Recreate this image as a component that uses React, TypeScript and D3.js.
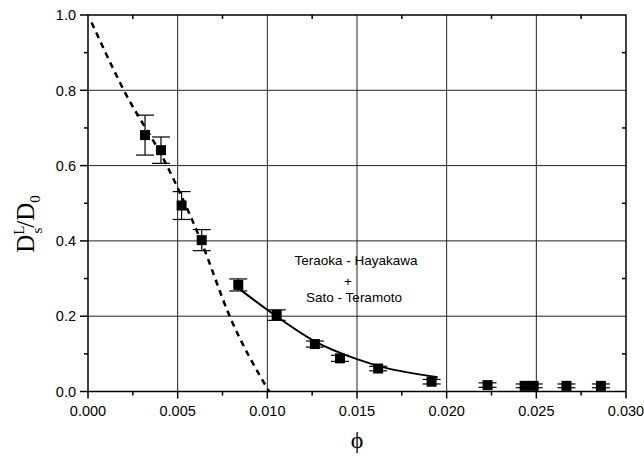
import React from 'react'
import * as d3 from 'd3'

// measured points (phi, Ds/D0, error)
const phiValues = [0.00318, 0.00407, 0.00522, 0.00634, 0.00838, 0.01052, 0.01265, 0.01405, 0.01618, 0.01916, 0.02228, 0.02435, 0.02485, 0.02668, 0.0286]
const dsValues = [0.681, 0.641, 0.494, 0.402, 0.283, 0.203, 0.126, 0.088, 0.061, 0.026, 0.017, 0.015, 0.015, 0.015, 0.015]
const errValues = [0.053, 0.035, 0.037, 0.028, 0.016, 0.014, 0.008, 0.008, 0.006, 0.006, 0.006, 0.005, 0.005, 0.005, 0.005]

// dashed curve
const dashPhi = [0.0002, 0.002, 0.0044, 0.0063, 0.0079, 0.0101]
const dashDs = [0.98, 0.8, 0.6, 0.4, 0.2, 0.0]

// solid fit
const fitPhi = [0.0085, 0.0105, 0.0127, 0.015, 0.0165, 0.0195]
const fitDs = [0.27, 0.2, 0.132, 0.086, 0.064, 0.038]

const xTicks = [0, 0.005, 0.01, 0.015, 0.02, 0.025, 0.03]
const xMinor = [0.0025, 0.0075, 0.0125, 0.0175, 0.0225, 0.0275]
const yTicks = [0, 0.2, 0.4, 0.6, 0.8, 1.0]
const yMinor = [0.1, 0.3, 0.5, 0.7, 0.9]

const W = 644
const H = 458
const left = 88
const right = 626
const top = 15
const bottom = 391.5

export default function App() {
  const x = d3.scaleLinear().domain([0, 0.03]).range([left, right])
  const y = d3.scaleLinear().domain([0, 1]).range([bottom, top])

  const dashLine = d3
    .line<number>()
    .x((d, i) => x(dashPhi[i]))
    .y(d => y(d))
    .curve(d3.curveMonotoneX)
  const fitLine = d3
    .line<number>()
    .x((d, i) => x(fitPhi[i]))
    .y(d => y(d))
    .curve(d3.curveMonotoneX)

  const tickFont = 'Arial, "Liberation Sans", Helvetica, sans-serif'
  const serif = '"Times New Roman", "Liberation Serif", serif'
  const sq = 10

  return (
    <svg width={W} height={H} style={{ position: 'absolute', left: 0, top: 0, background: '#fff' }}>
      {/* grid */}
      {xTicks.slice(1, -1).map(t => (
        <line key={'gx' + t} x1={x(t)} x2={x(t)} y1={top} y2={bottom} stroke="#222" strokeWidth={1} />
      ))}
      {yTicks.slice(1, -1).map(t => (
        <line key={'gy' + t} x1={left} x2={right} y1={y(t)} y2={y(t)} stroke="#222" strokeWidth={1} />
      ))}

      {/* frame */}
      <rect x={left} y={top} width={right - left} height={bottom - top} fill="none" stroke="#000" strokeWidth={1.5} />

      {/* left / right ticks */}
      {yTicks.map(t => (
        <line key={'ly' + t} x1={left - 8} x2={left} y1={y(t)} y2={y(t)} stroke="#000" strokeWidth={1.5} />
      ))}
      {yMinor.map(t => (
        <line key={'lm' + t} x1={left - 4} x2={left} y1={y(t)} y2={y(t)} stroke="#000" strokeWidth={1.5} />
      ))}
      {yMinor.map(t => (
        <line key={'rm' + t} x1={right - 4} x2={right} y1={y(t)} y2={y(t)} stroke="#000" strokeWidth={1.5} />
      ))}
      {yTicks.map(t => (
        <text key={'yl' + t} x={left - 12} y={y(t)} dy="0.36em" textAnchor="end" fontFamily={tickFont} fontSize={14.5}>
          {t.toFixed(1)}
        </text>
      ))}

      {/* bottom / top ticks */}
      {xTicks.map(t => (
        <line key={'bx' + t} x1={x(t)} x2={x(t)} y1={bottom} y2={bottom + 7} stroke="#000" strokeWidth={1.5} />
      ))}
      {xMinor.map(t => (
        <line key={'bm' + t} x1={x(t)} x2={x(t)} y1={bottom} y2={bottom + 4} stroke="#000" strokeWidth={1.5} />
      ))}
      {xMinor.map(t => (
        <line key={'tm' + t} x1={x(t)} x2={x(t)} y1={top} y2={top + 4} stroke="#000" strokeWidth={1.5} />
      ))}
      {xTicks.map(t => (
        <text key={'xl' + t} x={x(t)} y={416} textAnchor="middle" fontFamily={tickFont} fontSize={14.5}>
          {t.toFixed(3)}
        </text>
      ))}

      {/* curves */}
      <path d={dashLine(dashDs) || ''} fill="none" stroke="#000" strokeWidth={2.5} strokeDasharray="6,5" />
      <path d={fitLine(fitDs) || ''} fill="none" stroke="#000" strokeWidth={2} />

      {/* points with error bars */}
      {phiValues.map((p, i) => {
        const cx = x(p)
        const cy = y(dsValues[i])
        const hi = y(dsValues[i] + errValues[i])
        const lo = y(dsValues[i] - errValues[i])
        return (
          <g key={'p' + i}>
            <line x1={cx} x2={cx} y1={hi} y2={lo} stroke="#000" strokeWidth={1.2} />
            <line x1={cx - 9} x2={cx + 9} y1={hi} y2={hi} stroke="#000" strokeWidth={1.2} />
            <line x1={cx - 9} x2={cx + 9} y1={lo} y2={lo} stroke="#000" strokeWidth={1.2} />
            <rect x={cx - sq / 2} y={cy - sq / 2} width={sq} height={sq} fill="#000" />
          </g>
        )
      })}

      {/* annotation */}
      <g fontFamily={tickFont} fontSize={13.5} textAnchor="middle">
        <text x={356} y={265}>Teraoka - Hayakawa</text>
        <text x={348} y={286}>+</text>
        <text x={354} y={302}>Sato - Teramoto</text>
      </g>

      {/* axis titles */}
      <text x={357} y={448} textAnchor="middle" fontFamily={serif} fontSize={24}>
        ϕ
      </text>
      <g transform={`translate(34, 224) rotate(-90)`}>
        <text textAnchor="middle" fontFamily={serif} fontSize={25}>
          D
          <tspan fontSize={15} dy={-10}>L</tspan>
          <tspan fontSize={15} dx={-8} dy={18}>s</tspan>
          <tspan dy={-8}>/D</tspan>
          <tspan fontSize={15} dy={6}>0</tspan>
        </text>
      </g>
    </svg>
  )
}
